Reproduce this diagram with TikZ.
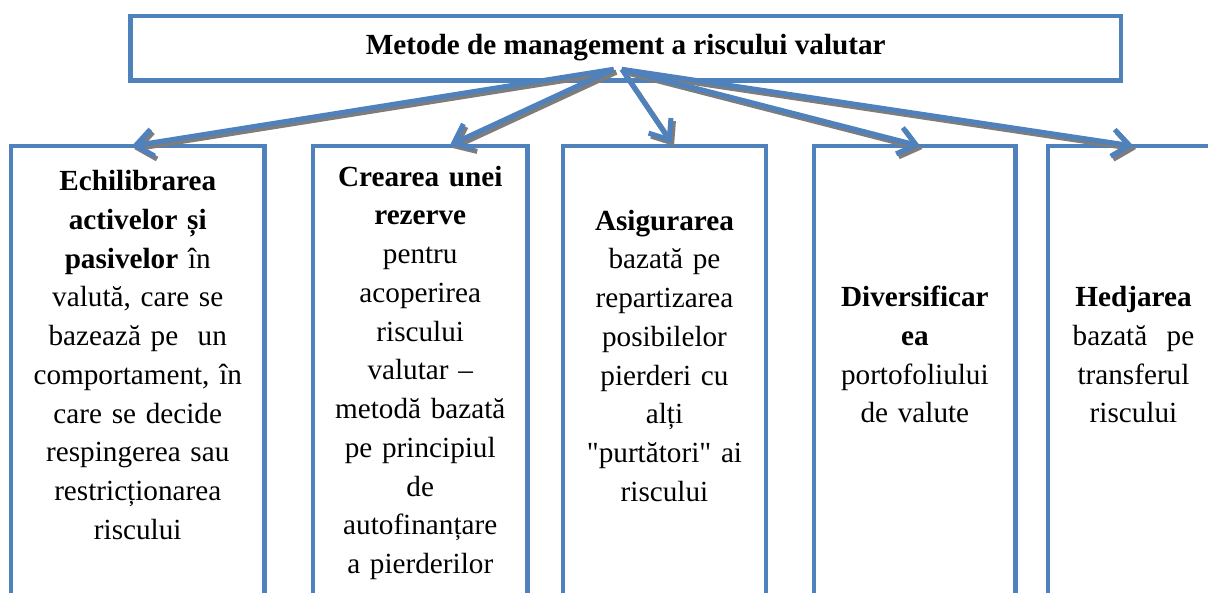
\documentclass[tikz,border=0pt]{standalone}
\usepackage{fontspec}
\setmainfont{Liberation Serif}[Ligatures=TeXOff]
\usetikzlibrary{arrows.meta}
\definecolor{obl}{RGB}{79,129,189}
\definecolor{shd}{RGB}{125,125,125}
\begin{document}
\begin{tikzpicture}[x=1pt,y=-1pt,
  boxst/.style={draw=obl, line width=4.5pt, inner sep=0pt, outer sep=0pt, anchor=north},
  txt/.style={anchor=base, text width=250pt, align=center, inner sep=0pt,
    font=\fontsize{29.2}{38.75}\selectfont},
  arr/.style={draw=obl, line width=5pt, -{Straight Barb[length=17pt,width=27pt]}},
  arrsh/.style={draw=shd, line width=5pt, -{Straight Barb[length=17pt,width=27pt]},
    transform canvas={xshift=2.5pt,yshift=-3pt}},
]
\useasboundingbox (0,0) rectangle (1208,592);
\clip (0,0) rectangle (1208,592);

% title
\node[draw=obl, line width=4.5pt, inner sep=0pt, outer sep=0pt,
      minimum width=990.5pt, minimum height=64.5pt,
      text height=21pt, text depth=8.5pt,
      font=\fontsize{29.2}{35}\selectfont\bfseries] (title) at (625.75,48.25)
  {Metode de management a riscului valutar};

% boxes (open at the bottom, they run below the page)
\node[boxst, minimum width=253.5pt, minimum height=520pt] (b1) at (137.75,146) {};
\node[boxst, minimum width=214.5pt, minimum height=520pt] (b2) at (420.25,146) {};
\node[boxst, minimum width=203pt,   minimum height=520pt] (b3) at (664.5,146) {};
\node[boxst, minimum width=201.7pt, minimum height=520pt] (b4) at (914.85,146) {};
\node[boxst, minimum width=171pt,   minimum height=520pt] (b5) at (1133.5,146) {};

% texts
\node[txt] (t1) at (137.75,190.7) {\textbf{Echilibrarea}\\ \textbf{activelor și}\\ \textbf{pasivelor} în\\ valută, care se\\ bazează pe\ \ un\\ comportament, în\\ care se decide\\ respingerea sau\\ restricționarea\\ riscului};
\node[txt] (t2) at (420.25,186) {\textbf{Crearea unei}\\ \textbf{rezerve}\\ pentru\\ acoperirea\\ riscului\\ valutar –\\ metodă bazată\\ pe principiul\\ de\\ autofinanțare\\ a pierderilor};
\node[txt] (t3) at (664.5,230) {\textbf{Asigurarea}\\ bazată pe\\ repartizarea\\ posibilelor\\ pierderi cu\\ alți\\ "purtători" ai\\ riscului};
\node[txt] (t4) at (914.85,306.7) {\textbf{Diversificar}\\ \textbf{ea}\\ portofoliului\\ de valute};
\node[txt] (t5) at (1133.5,306.7) {\textbf{Hedjarea}\\ bazată\ \ pe\\ transferul\\ riscului};

% arrow origins
\coordinate (oL) at ([xshift=-12pt,yshift=-21pt]title.center);
\coordinate (oR) at ([xshift=-4pt,yshift=-21pt]title.center);

% shadows
\draw[arrsh] (oL) -- ([xshift=-6pt]b1.north);
\draw[arrsh] (oL) -- ([xshift=29.75pt,yshift=1pt]b2.north);
\draw[arrsh] (oR) -- ([xshift=7pt,yshift=3pt]b3.north);
\draw[arrsh] (oR) -- ([xshift=5pt]b4.north);
\draw[arrsh] (oR) -- ([xshift=0pt]b5.north);
% arrows
\draw[arr] (oL) -- ([xshift=-6pt]b1.north);
\draw[arr] (oL) -- ([xshift=29.75pt,yshift=1pt]b2.north);
\draw[arr] (oR) -- ([xshift=7pt,yshift=3pt]b3.north);
\draw[arr] (oR) -- ([xshift=5pt]b4.north);
\draw[arr] (oR) -- ([xshift=0pt]b5.north);
\end{tikzpicture}
\end{document}
